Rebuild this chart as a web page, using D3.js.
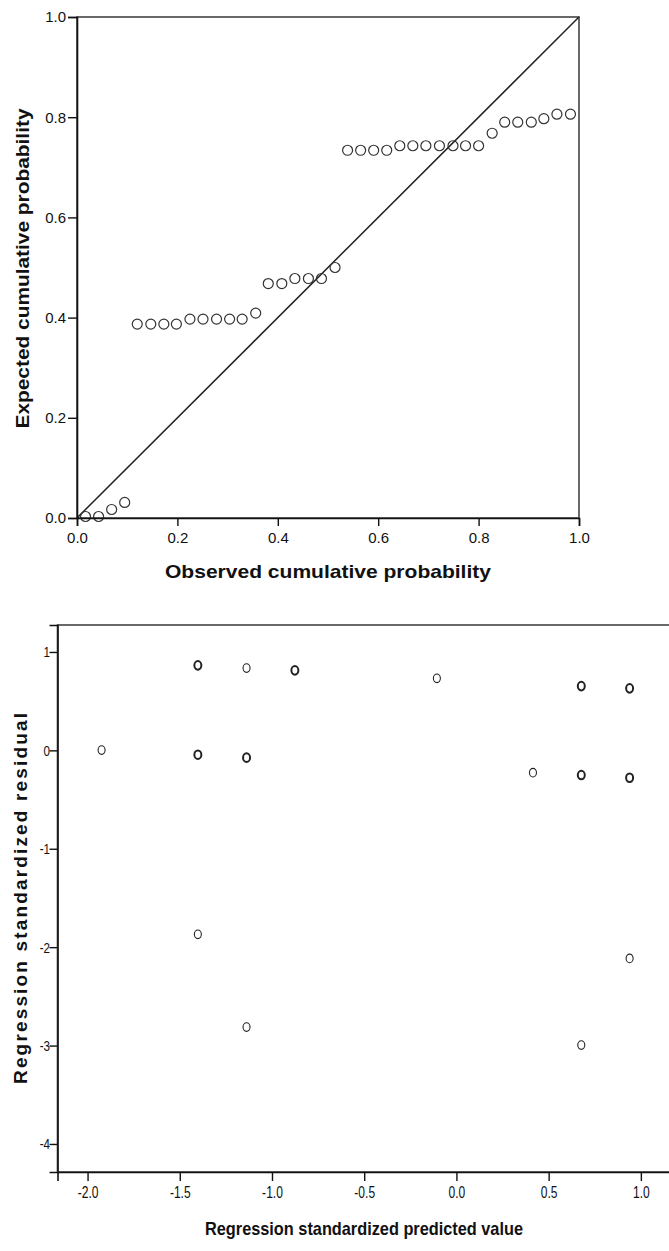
<!DOCTYPE html>
<html>
  <head>
    <meta charset='utf-8'>
    <style>
      body { margin: 0; background: #fff; }
      svg { display: block; }
      text { font-family: "Liberation Sans", Arial, sans-serif; fill: #111; }
    </style>
  </head>

  <body>
    <div id="chart"></div>
    <script src="https://cdnjs.cloudflare.com/ajax/libs/d3/7.8.5/d3.min.js"></script>

    <script type="text/javascript">

      // --------------------------- data --------------------------
      // normal P-P plot of regression standardized residual
      var ppObserved = [0.017, 0.043, 0.069, 0.095,
                        0.120, 0.147, 0.173, 0.198, 0.225, 0.251, 0.278, 0.304, 0.329, 0.356,
                        0.381, 0.408, 0.434, 0.461, 0.487, 0.514,
                        0.539, 0.565, 0.591, 0.617, 0.643, 0.669, 0.695, 0.722, 0.749,
                        0.774, 0.800, 0.827, 0.852, 0.878, 0.905, 0.930, 0.956, 0.983];
      var ppExpected = [0.003, 0.003, 0.017, 0.031,
                        0.387, 0.387, 0.387, 0.387, 0.397, 0.397, 0.397, 0.397, 0.397, 0.409,
                        0.468, 0.468, 0.478, 0.478, 0.478, 0.500,
                        0.734, 0.734, 0.734, 0.734, 0.743, 0.743, 0.743, 0.743, 0.743,
                        0.743, 0.743, 0.768, 0.790, 0.790, 0.790, 0.797, 0.806, 0.806];
      var ppTicks = [0, 0.2, 0.4, 0.6, 0.8, 1.0];

      // scatterplot: standardized predicted vs standardized residual
      var predValues  = [-1.924, -1.402, -1.138, -0.876, -0.106, 0.677, 0.939,
                         -1.402, -1.138, 0.415, 0.677, 0.939,
                         -1.402, 0.939, -1.138, 0.677];
      var residValues = [0.003, 0.864, 0.836, 0.813, 0.732, 0.653, 0.630,
                         -0.044, -0.074, -0.227, -0.251, -0.278,
                         -1.870, -2.114, -2.812, -2.995];
      var caseCounts  = [1, 2, 1, 2, 1, 2, 2,
                         2, 2, 1, 2, 2,
                         1, 1, 1, 1];
      var predTicks  = [-2.0, -1.5, -1.0, -0.5, 0.0, 0.5, 1.0];
      var residTicks = [1, 0, -1, -2, -3, -4];

      // --------------------------- layout --------------------------
      var W = 669, H = 1251;

      // plain hyphen for negatives, like the SPSS output
      var loc = d3.formatLocale({decimal: ".", thousands: ",", grouping: [3],
                                 currency: ["$", ""], minus: "-"});

      var svg = d3.select("#chart").append("svg")
        .attr("width", W)
        .attr("height", H);

      // ---------- top chart : P-P plot ----------
      var x0 = d3.scaleLinear().domain([0, 1]).range([77, 579]);
      var y0 = d3.scaleLinear().domain([0, 1]).range([518, 17]);

      var gTop = svg.append("g");

      gTop.append("rect")
        .attr("x", x0(0)).attr("y", y0(1))
        .attr("width", x0(1) - x0(0)).attr("height", y0(0) - y0(1))
        .attr("fill", "none").attr("stroke", "#444").attr("stroke-width", 1.6);

      // reference diagonal
      gTop.append("line")
        .attr("x1", x0(0)).attr("y1", y0(0))
        .attr("x2", x0(1)).attr("y2", y0(1))
        .attr("stroke", "#222").attr("stroke-width", 1.5);

      gTop.selectAll(".pp")
        .data(ppObserved).enter()
        .append("circle")
        .attr("class", "pp")
        .attr("cx", function(d){ return x0(d); })
        .attr("cy", function(d, i){ return y0(ppExpected[i]); })
        .attr("r", 5)
        .attr("fill", "none")
        .attr("stroke", "#333")
        .attr("stroke-width", 1.2);

      var xAxis0 = d3.axisBottom(x0).tickValues(ppTicks).tickFormat(loc.format(".1f"))
        .tickSize(8).tickPadding(6);
      var yAxis0 = d3.axisLeft(y0).tickValues(ppTicks).tickFormat(loc.format(".1f"))
        .tickSize(9).tickPadding(2);

      gTop.append("g")
        .attr("transform", "translate(0," + y0(0) + ")")
        .call(xAxis0)
        .call(styleAxis, 15);
      gTop.append("g")
        .attr("transform", "translate(" + x0(0) + ",0)")
        .call(yAxis0)
        .call(styleAxis, 15);

      gTop.append("text")
        .attr("x", (x0(0) + x0(1)) / 2).attr("y", 578)
        .attr("text-anchor", "middle")
        .attr("font-size", 19).attr("font-weight", "bold")
        .attr("textLength", 326).attr("lengthAdjust", "spacingAndGlyphs")
        .text("Observed cumulative probability");

      gTop.append("text")
        .attr("transform", "translate(29," + ((y0(0) + y0(1)) / 2 + 1) + ") rotate(-90)")
        .attr("text-anchor", "middle")
        .attr("font-size", 19).attr("font-weight", "bold")
        .attr("textLength", 320).attr("lengthAdjust", "spacingAndGlyphs")
        .text("Expected cumulative probability");

      // ---------- bottom chart : residual scatter ----------
      var x1 = d3.scaleLinear().domain([-2.163, 1.158]).range([57.5, 670]);
      var y1 = d3.scaleLinear().domain([-4.285, 1.274]).range([1172, 625]);
      var sw = d3.scaleLinear().domain([1, 2]).range([1.1, 2.0]);

      var gBot = svg.append("g");

      gBot.append("rect")
        .attr("x", x1.range()[0]).attr("y", y1.range()[1])
        .attr("width", x1.range()[1] - x1.range()[0])
        .attr("height", y1.range()[0] - y1.range()[1])
        .attr("fill", "none").attr("stroke", "#444").attr("stroke-width", 1.6);

      gBot.selectAll(".res")
        .data(predValues).enter()
        .append("ellipse")
        .attr("class", "res")
        .attr("cx", function(d){ return x1(d); })
        .attr("cy", function(d, i){ return y1(residValues[i]); })
        .attr("rx", 3.5)
        .attr("ry", 4.3)
        .attr("fill", "none")
        .attr("stroke", "#222")
        .attr("stroke-width", function(d, i){ return sw(caseCounts[i]); });

      var xAxis1 = d3.axisBottom(x1).tickValues(predTicks).tickFormat(loc.format(".1f"))
        .tickSize(9).tickPadding(5);
      var yAxis1 = d3.axisLeft(y1).tickValues(residTicks).tickFormat(loc.format("d"))
        .tickSize(8).tickPadding(2);

      gBot.append("g")
        .attr("transform", "translate(0," + y1.range()[0] + ")")
        .call(xAxis1)
        .call(styleAxis, 16.5)
        .selectAll(".tick text")
        .attr("transform", "scale(0.73,1)");
      gBot.append("g")
        .attr("transform", "translate(" + x1.range()[0] + ",0)")
        .call(yAxis1)
        .call(styleAxis, 15.5)
        .selectAll(".tick text")
        .attr("transform", "scale(0.75,1)");

      gBot.append("text")
        .attr("x", 364).attr("y", 1235)
        .attr("text-anchor", "middle")
        .attr("font-size", 19).attr("font-weight", "bold")
        .attr("textLength", 318).attr("lengthAdjust", "spacingAndGlyphs")
        .text("Regression standardized predicted value");

      gBot.append("text")
        .attr("transform", "translate(27," + ((y1.range()[0] + y1.range()[1]) / 2) + ") rotate(-90)")
        .attr("text-anchor", "middle")
        .attr("font-size", 19).attr("font-weight", "bold")
        .attr("textLength", 371).attr("lengthAdjust", "spacing")
        .text("Regression standardized residual");

      function styleAxis(g, fs) {
        g.select(".domain").attr("stroke", "#111").attr("stroke-width", 1.6);
        g.selectAll(".tick line").attr("stroke", "#111").attr("stroke-width", 1.4);
        g.selectAll(".tick text")
          .attr("font-size", fs)
          .attr("font-family", "'Liberation Sans', Arial, sans-serif")
          .attr("fill", "#222");
      }

  </script>
  </body>
</html>
